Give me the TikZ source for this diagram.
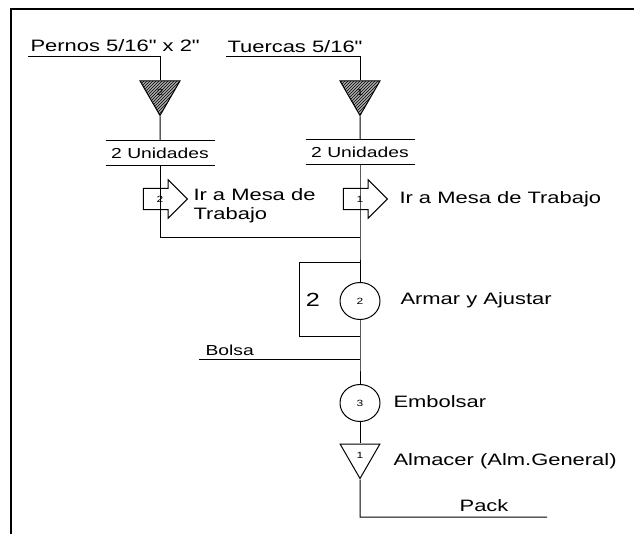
\documentclass[tikz,border=0pt]{standalone}
\usepackage{fontspec}
\setmainfont{Liberation Sans}[FakeStretch=1.33, Ligatures=TeXOff]
\usetikzlibrary{shapes.geometric,shapes.arrows,patterns}

\begin{document}
\begin{tikzpicture}[
        x=1pt, y=-1pt,
        line width=1pt,
        big/.style={font=\fontsize{16.5}{19}\selectfont, inner sep=0pt},
        small/.style={font=\fontsize{14.5}{17}\selectfont, inner sep=0pt},
        num/.style={font=\fontsize{9}{10}\selectfont},
        inv/.style={regular polygon, regular polygon sides=3, regular polygon rotate=180, minimum size=46pt, inner sep=0pt, draw, num},
        stock/.style={inv, preaction={fill=gray!65}, pattern=north east lines},
        unid/.style={small, minimum width=108pt, minimum height=24pt},
        move/.style={single arrow, draw, single arrow head extend=8.5pt, minimum height=44pt, inner xsep=2pt, inner ysep=7pt, num},
        oper/.style={ellipse, draw, fill=white, minimum width=40pt, minimum height=37pt, inner sep=0pt, num}
    ]
        \useasboundingbox (0,0) rectangle (634,534);
        \draw[line width=2pt] (11,534) -- (11,9) -- (634,9);

        \coordinate (p0) at (28,57);
        \coordinate (p1) at (160,57);
        \node[big, anchor=base west] (pernos) at (30,52) {Pernos 5/16" x 2"};
        \node[stock] (inv2) at (160,92.5) {2};
        \node[unid] (unid2) at (160,153) {2 Unidades};
        \node[move] (mov2) at (160,199) {2};
        \node[big, anchor=west, align=left] (lbl2) at (193,206) {Ir a Mesa de\\Trabajo};
        \coordinate (c2) at (160,238);

        \coordinate (t0) at (226,57);
        \coordinate (t1) at (360,57);
        \node[big, anchor=base west] (tuercas) at (227,53) {Tuercas 5/16"};
        \node[stock] (inv1) at (360,92.5) {1};
        \node[unid] (unid1) at (360,152) {2 Unidades};
        \node[move] (mov1) at (360,199) {1};
        \node[big, anchor=west] (lbl1) at (399,199) {Ir a Mesa de Trabajo};
        \coordinate (j1) at (360,238);

        \node[oper] (op2) at (360,301) {2};
        \coordinate (l0) at (360,263);
        \coordinate (l1) at (299,263);
        \coordinate (l2) at (299,336);
        \coordinate (l3) at (360,336);
        \node[font=\fontsize{19}{21}\selectfont, inner sep=0pt] (rep) at (313,300) {2};
        \node[big, anchor=west] (lblop2) at (400,300) {Armar y Ajustar};

        \coordinate (j2) at (360,359);
        \coordinate (b0) at (199,359);
        \node[small, anchor=base west] (bolsa) at (205,355) {Bolsa};

        \node[oper] (op3) at (360,403) {3};
        \node[big, anchor=west] (lblop3) at (393,402) {Embolsar};

        \node[inv] (alm) at (360,455.5) {1};
        \node[big, anchor=west] (lblalm) at (393,461) {Almacer (Alm.General)};
        \coordinate (e0) at (360,517);
        \coordinate (e1) at (547,517);
        \node[big, anchor=base] (pack) at (484,511) {Pack};

        \draw (p0) -- (p1) -- (inv2.north);
        \draw (inv2.south) -- (unid2.north);
        \draw (unid2.north west) -- (unid2.north east) (unid2.south west) -- (unid2.south east);
        \draw (unid2.south) -- (c2) -- (j1);
        \draw (t0) -- (t1) -- (inv1.north);
        \draw (inv1.south) -- (unid1.north);
        \draw (unid1.north west) -- (unid1.north east) (unid1.south west) -- (unid1.south east);
        \draw (unid1.south) -- (j1) -- (op2);
        \draw (l0) -- (l1) -- (l2) -- (l3);
        \draw (op2) -- (j2) -- (op3);
        \draw (b0) -- (j2);
        \draw (op3) -- (alm.north);
        \draw (alm.south) -- (e0) -- (e1);
\end{tikzpicture}
\end{document}
